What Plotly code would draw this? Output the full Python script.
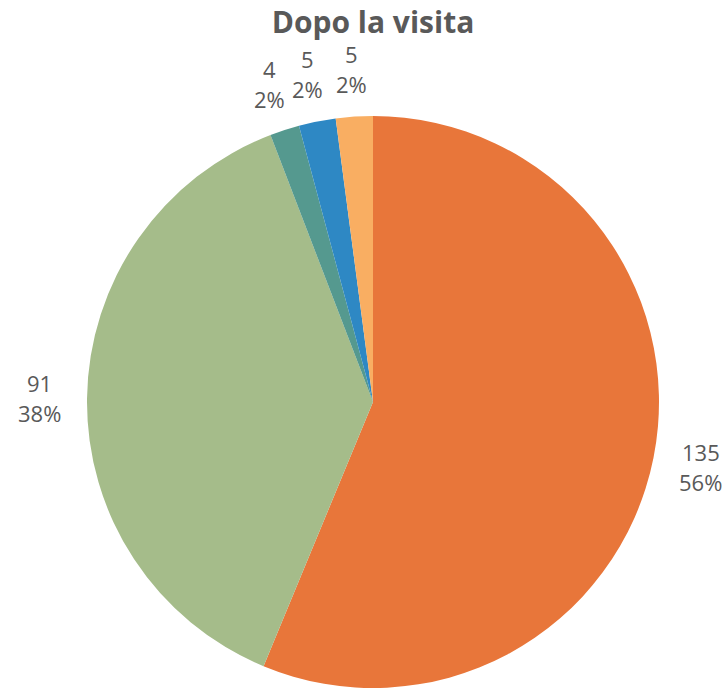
import math
import plotly.graph_objects as go

labels = ["A", "B", "C", "D", "E"]
values = [135, 91, 4, 5, 5]
colors = ["#E8763A", "#A5BC8A", "#55998F", "#2E88C4", "#F9AE62"]

W, H = 725, 688
ML, MR, MT, MB = 86, 65, 116, 0
pw, ph = W - ML - MR, H - MT - MB
cx, cy = ML + pw / 2, MT + ph / 2   # figure pixel coordinates
R_LABEL = 334
LINE_GAP = 15

fig = go.Figure(go.Pie(
    labels=labels,
    values=values,
    sort=False,
    direction="clockwise",
    rotation=0,
    marker=dict(colors=colors, line=dict(width=0)),
    textinfo="none",
    automargin=False,
    showlegend=False,
    hoverinfo="label+value+percent",
))

total = sum(values)
cum = 0
annotations = []
font = dict(family="Open Sans", size=22, color="#595959")
for v in values:
    theta = 2 * math.pi * (cum + v / 2) / total
    cum += v
    px_x = cx + R_LABEL * math.sin(theta)
    px_y = cy - R_LABEL * math.cos(theta)
    pct = f"{round(100 * v / total)}%"
    for txt, off in ((str(v), -LINE_GAP), (pct, LINE_GAP)):
        annotations.append(dict(
            text=txt, xref="paper", yref="paper",
            x=(px_x - ML) / pw, y=(H - MB - (px_y + off)) / ph,
            xanchor="center", yanchor="middle", showarrow=False, font=font,
            borderpad=0,
        ))

fig.update_layout(
    width=W, height=H,
    margin=dict(l=ML, r=MR, t=MT, b=MB),
    paper_bgcolor="white",
    plot_bgcolor="white",
    annotations=annotations,
    title=dict(text="<b>Dopo la visita</b>", x=373 / W, xanchor="center",
               y=1 - 22 / H, yanchor="middle",
               font=dict(family="Open Sans", size=30, color="#595959")),
)

fig.write_html("out.html", config={"displayModeBar": False},
               post_script="document.body.style.margin='0';")
